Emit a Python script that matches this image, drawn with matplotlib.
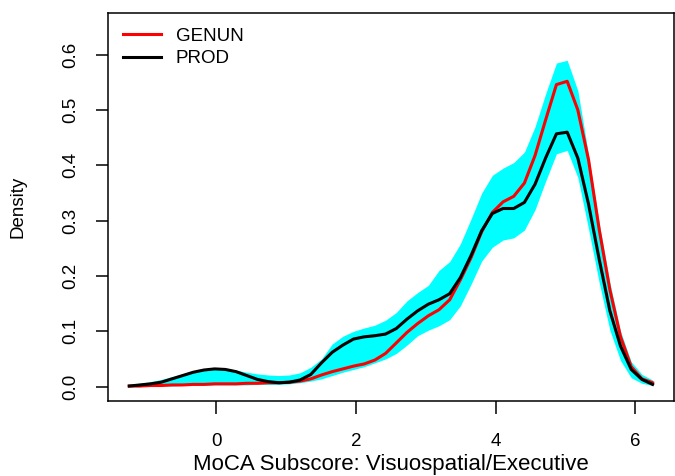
import matplotlib
matplotlib.use('Agg')
import matplotlib.pyplot as plt
from matplotlib import rc

rc('font', family='Liberation Sans', size=13.5)
rc('axes', linewidth=1.1)

# density grid (x) and curves
score = [-1.250, -1.097, -0.944, -0.791, -0.638, -0.485, -0.332, -0.179, -0.026, 0.128,
         0.281, 0.434, 0.587, 0.740, 0.893, 1.046, 1.199, 1.352, 1.505, 1.658,
         1.811, 1.964, 2.117, 2.270, 2.423, 2.577, 2.730, 2.883, 3.036, 3.189,
         3.342, 3.495, 3.648, 3.801, 3.954, 4.107, 4.260, 4.413, 4.566, 4.719,
         4.872, 5.026, 5.179, 5.332, 5.485, 5.638, 5.791, 5.944, 6.097, 6.250]

genun = [0.001, 0.001, 0.002, 0.002, 0.003, 0.003, 0.004, 0.004, 0.005, 0.005,
         0.005, 0.006, 0.006, 0.007, 0.007, 0.008, 0.010, 0.014, 0.021, 0.027,
         0.032, 0.037, 0.041, 0.048, 0.060, 0.079, 0.098, 0.114, 0.128, 0.139,
         0.157, 0.193, 0.233, 0.280, 0.315, 0.334, 0.344, 0.368, 0.418, 0.483,
         0.546, 0.552, 0.500, 0.410, 0.284, 0.175, 0.090, 0.036, 0.014, 0.007]

prod = [0.001, 0.003, 0.005, 0.008, 0.014, 0.020, 0.026, 0.030, 0.032, 0.031,
        0.027, 0.020, 0.013, 0.009, 0.007, 0.008, 0.012, 0.022, 0.043, 0.062,
        0.075, 0.086, 0.090, 0.092, 0.095, 0.105, 0.122, 0.137, 0.149, 0.157,
        0.168, 0.197, 0.237, 0.282, 0.313, 0.322, 0.322, 0.333, 0.366, 0.414,
        0.457, 0.460, 0.413, 0.330, 0.230, 0.137, 0.073, 0.031, 0.013, 0.004]

band_hi = [0.004, 0.006, 0.009, 0.013, 0.018, 0.023, 0.028, 0.032, 0.034, 0.033,
           0.030, 0.026, 0.023, 0.021, 0.020, 0.021, 0.025, 0.035, 0.050, 0.077,
           0.091, 0.100, 0.106, 0.111, 0.120, 0.134, 0.155, 0.170, 0.183, 0.210,
           0.226, 0.258, 0.303, 0.350, 0.382, 0.395, 0.405, 0.424, 0.470, 0.530,
           0.585, 0.590, 0.535, 0.420, 0.296, 0.188, 0.100, 0.045, 0.022, 0.012]

band_lo = [0.000, 0.000, 0.001, 0.001, 0.001, 0.002, 0.002, 0.002, 0.003, 0.003,
           0.003, 0.003, 0.004, 0.004, 0.004, 0.005, 0.007, 0.010, 0.014, 0.020,
           0.026, 0.031, 0.036, 0.043, 0.050, 0.060, 0.075, 0.092, 0.102, 0.110,
           0.121, 0.146, 0.185, 0.227, 0.252, 0.265, 0.269, 0.283, 0.320, 0.372,
           0.421, 0.427, 0.378, 0.285, 0.188, 0.102, 0.047, 0.016, 0.006, 0.002]

fig = plt.figure(figsize=(6.75, 4.76), dpi=100)
ax = fig.add_axes([0.1605, 0.1576, 0.8373, 0.8157])

ax.fill_between(score, band_lo, band_hi, color='#00FFFF', linewidth=0)
ax.plot(score, genun, color='#FF0000', lw=2.2, label='GENUN')
ax.plot(score, prod, color='black', lw=2.2, label='PROD')

ax.set_xlim(-1.55, 6.55)
ax.set_ylim(-0.026, 0.676)
ax.set_xticks([0, 2, 4, 6])
ax.set_yticks([0.0, 0.1, 0.2, 0.3, 0.4, 0.5, 0.6])
ax.set_yticklabels(['0.0', '0.1', '0.2', '0.3', '0.4', '0.5', '0.6'],
                   rotation=90, va='center')
ax.tick_params(axis='both', direction='out', length=9, width=1.1)
ax.tick_params(axis='x', pad=14)
ax.tick_params(axis='y', pad=12)

ax.set_xlabel('MoCA Subscore: Visuospatial/Executive', fontsize=16, labelpad=3)
ax.set_ylabel('Density', labelpad=26)

ax.legend(loc='upper left', bbox_to_anchor=(0.026, 0.962), frameon=False,
          borderpad=0, borderaxespad=0, handlelength=2.0, handletextpad=0.8,
          labelspacing=0.3, fontsize=13.5)

plt.savefig('out.png', dpi=100)
plt.close()
